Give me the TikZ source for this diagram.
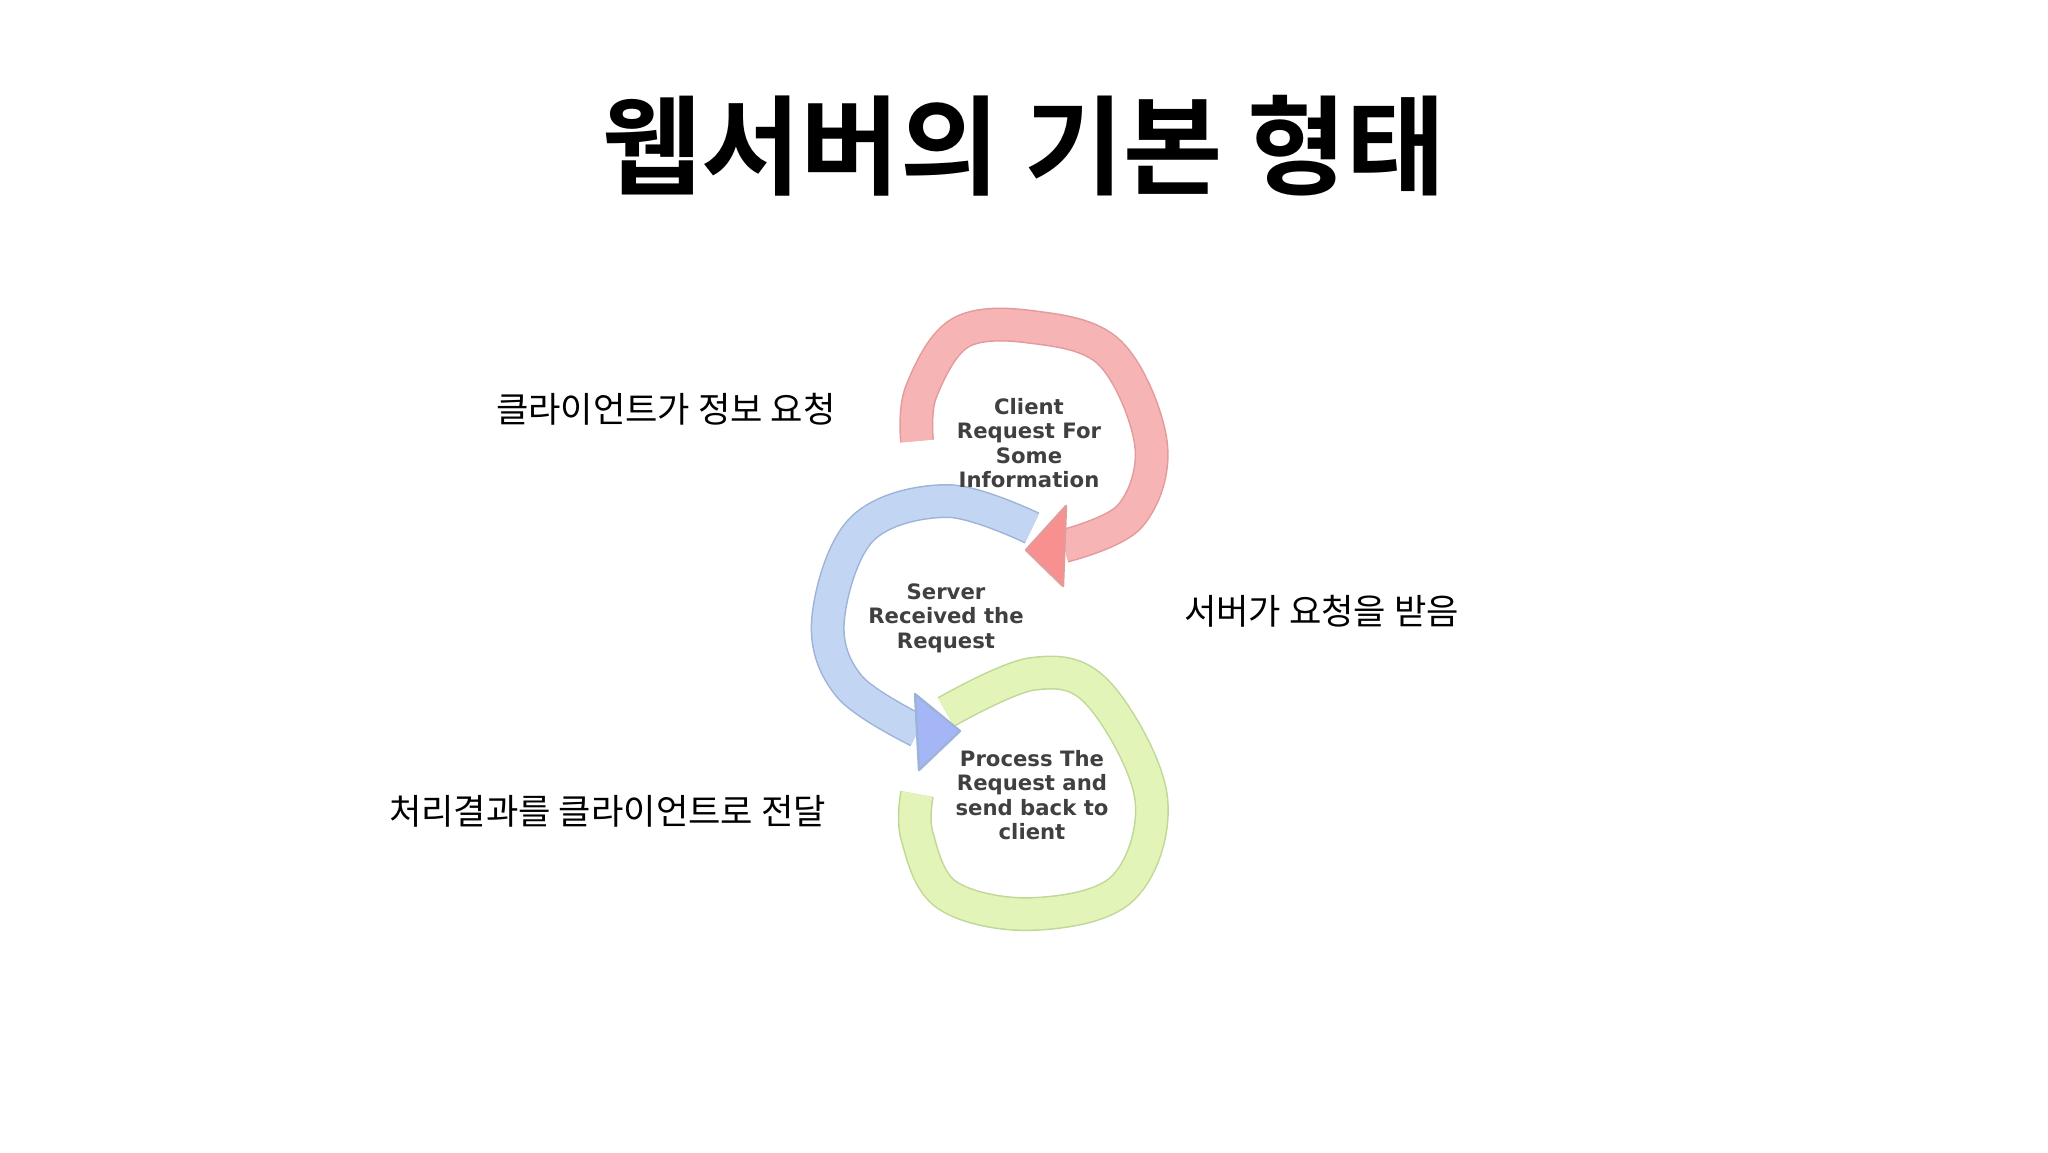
\documentclass[tikz,border=0pt]{standalone}
\usepackage{fontspec}
\newfontfamily\kr{Noto Sans CJK KR}
\newfontfamily\krb{Noto Sans CJK KR Bold}
\newfontfamily\dv{DejaVu Sans}
\begin{document}
\begin{tikzpicture}[x=0.5pt,y=-0.5pt,
  band/.style={line width=15.5pt},
  edge/.style={line width=17pt},
  inner/.style={font=\dv\bfseries\fontsize{10.6}{12.2}\selectfont,text=black!75,align=center},
  lab/.style={font=\kr\fontsize{17.6}{20}\selectfont,anchor=west}]
\useasboundingbox (0,0) rectangle (2048,1152);
\fill[white] (0,0) rectangle (2048,1152);
\definecolor{rd}{HTML}{F6B4B4}\definecolor{rde}{HTML}{E39A9A}
\definecolor{bl}{HTML}{C2D6F4}\definecolor{ble}{HTML}{9DB4D8}
\definecolor{gr}{HTML}{E2F4B8}\definecolor{gre}{HTML}{C0D895}
\node[font=\krb\fontsize{54}{60}\selectfont] (title) at (1024,146) {웹서버의 기본 형태};
% green
\draw[edge,gre] plot[smooth,tension=0.6] coordinates {(946,712) (1032,674) (1097,692) (1151,797) (1123,888) (1032,914) (947,895) (917,836) (917,794)};
\draw[band,gr] plot[smooth,tension=0.6] coordinates {(946,712) (1032,674) (1097,692) (1151,797) (1123,888) (1032,914) (947,895) (917,836) (917,794)};
% blue
\draw[edge,ble] plot[smooth,tension=0.6] coordinates {(1032,528) (947,501) (862,529) (828,620) (849,686) (918,731)};
\draw[band,bl] plot[smooth,tension=0.6] coordinates {(1032,528) (947,501) (862,529) (828,620) (849,686) (918,731)};
\filldraw[fill=bl!85!blue,draw=ble,line width=1.2pt,line join=round] (915,694) -- (960,731) -- (919,770) -- cycle;
% red
\draw[edge,rde] plot[smooth,tension=0.6] coordinates {(917,441) (921,392) (960,333) (1032,327) (1110,353) (1151,444) (1130,516) (1064,546)};
\draw[band,rd] plot[smooth,tension=0.6] coordinates {(917,441) (921,392) (960,333) (1032,327) (1110,353) (1151,444) (1130,516) (1064,546)};
\filldraw[fill=rd!80!red,draw=rde,line width=1.2pt,line join=round] (1066,506) -- (1026,550) -- (1063,586) -- cycle;
\node[inner] (client) at (1029,443) {Client\\Request For\\Some\\Information};
\node[inner] (server) at (946,618) {Server\\Received the\\Request};
\node[inner] (process) at (1032,795) {Process The\\Request and\\send back to\\client};
\node[lab] (l1) at (489,409) {클라이언트가 정보 요청};
\node[lab] (l2) at (1177,611) {서버가 요청을 받음};
\node[lab] (l3) at (382,811) {처리결과를 클라이언트로 전달};
\end{tikzpicture}
\end{document}
